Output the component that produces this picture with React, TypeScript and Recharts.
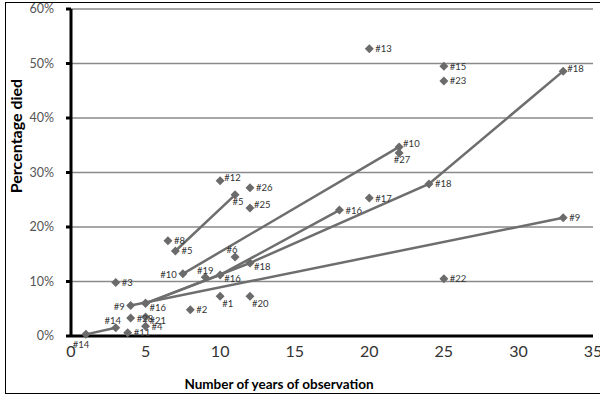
import React from 'react';
import { ScatterChart, Scatter, XAxis, YAxis, CartesianGrid } from 'recharts';

// ---- axis ticks ----
const xTicks = [0, 5, 10, 15, 20, 25, 30, 35];
const yTicks = [0, 10, 20, 30, 40, 50, 60];

// ---- connected studies (years, % died) ----
const s14Labels = ['#14', '#14'];
const s14X = [1, 3];
const s14Y = [0.3, 1.5];

const s9Labels = ['#9', '#9'];
const s9X = [4, 33];
const s9Y = [5.6, 21.7];

const s16Labels = ['#16', '#16', '#16'];
const s16X = [5, 10, 18];
const s16Y = [6, 11.2, 23.1];

const s18Labels = ['', '#18', '#18', '#18'];
const s18X = [5, 12, 24, 33];
const s18Y = [6, 13.4, 27.9, 48.6];

const s10Labels = ['#10', '#10'];
const s10X = [7.5, 22];
const s10Y = [11.4, 34.7];

const s5Labels = ['#5', '#5'];
const s5X = [7, 11];
const s5Y = [15.6, 25.9];

// ---- single-observation studies ----
const ptLabels = ['#11', '#4', '#21', '#28', '#3', '#2', '#1', '#19', '#6', '#8', '#12', '#26', '#25', '#20', '#17', '#22', '#15', '#23', '#13', '#27'];
const ptX = [3.8, 5, 5, 4, 3, 8, 10, 9, 11, 6.5, 10, 12, 12, 12, 20, 25, 25, 25, 20, 22];
const ptY = [0.6, 1.8, 3.5, 3.3, 9.8, 4.8, 7.3, 10.8, 14.5, 17.5, 28.5, 27.2, 23.5, 7.3, 25.3, 10.5, 49.5, 46.8, 52.7, 33.6];

// ---- label placement (style, kept separate from data) ----
const s14Place = ['bl', 'tl'];
const s9Place = ['l', 'r'];
const s16Place = ['rb', 'rb', 'r'];
const s18Place = ['', 'rb', 'r', 'rt'];
const s10Place = ['l', 'rt'];
const s5Place = ['r', 'b'];
const ptPlace = ['r', 'r', 'rb', 'r', 'r', 'r', 'rb2', 't', 'tl', 'r', 'rt', 'r', 'rt', 'rb2', 'r', 'r', 'r', 'r', 'r', 'b'];

const OFFSETS: Record<string, [number, number, 'start' | 'middle' | 'end']> = {
  r: [6, 0, 'start'],
  rt: [4, -3, 'start'],
  rb: [4, 4, 'start'],
  rb2: [2, 7, 'start'],
  b: [3, 7, 'middle'],
  bl: [-5, 10, 'middle'],
  t: [0, -7, 'middle'],
  tl: [-3, -7, 'middle'],
  l: [-6, 1, 'end'],
};

const build = (labels: string[], xs: number[], ys: number[], place: string[]) =>
  xs.map((x, i) => ({ x, y: ys[i], label: labels[i], place: place[i] }));

const FONT = 'Lato, "Open Sans", sans-serif';
const MARK = '#6b6b6b';
const LINE = '#6e6e6e';

const Point = (props: any) => {
  const { cx, cy, payload } = props;
  if (cx == null || cy == null) return null;
  const r = 4.5;
  const off = OFFSETS[payload.place];
  return (
    <g>
      <path d={`M${cx},${cy - r}L${cx + r},${cy}L${cx},${cy + r}L${cx - r},${cy}Z`} fill={MARK} />
      {payload.label && off ? (
        <text
          x={cx + off[0]}
          y={cy + off[1]}
          textAnchor={off[2]}
          dominantBaseline="central"
          fontSize={9.5}
          fontFamily={FONT}
          fill="#333"
        >
          {payload.label}
        </text>
      ) : null}
    </g>
  );
};

const YTitle = () => (
  <text
    x={15}
    y={136}
    transform="rotate(-90 15 136)"
    textAnchor="middle"
    dominantBaseline="central"
    fontSize={16}
    fontWeight="bold"
    fontFamily={FONT}
    fill="#000"
  >
    Percentage died
  </text>
);

const XTitle = () => (
  <text
    x={279}
    y={384}
    textAnchor="middle"
    dominantBaseline="central"
    fontSize={13.5}
    fontWeight="bold"
    fontFamily={FONT}
    fill="#000"
  >
    Number of years of observation
  </text>
);

const lineStyle = { stroke: LINE, strokeWidth: 2.5 };

export default function App() {
  const series = [
    build(s14Labels, s14X, s14Y, s14Place),
    build(s9Labels, s9X, s9Y, s9Place),
    build(s16Labels, s16X, s16Y, s16Place),
    build(s18Labels, s18X, s18Y, s18Place),
    build(s10Labels, s10X, s10Y, s10Place),
    build(s5Labels, s5X, s5Y, s5Place),
  ];
  const singles = build(ptLabels, ptX, ptY, ptPlace);
  return (
    <div style={{ position: 'absolute', left: 0, top: 0, width: 600, height: 400, background: '#fff', overflow: 'hidden' }}>
      <div
        style={{
          position: 'absolute',
          left: 5,
          top: 2,
          width: 600,
          height: 392,
          border: '1px solid #000',
          boxSizing: 'border-box',
        }}
      />
      <div style={{ position: 'absolute', left: 0, top: 0 }}>
        <ScatterChart width={600} height={400} margin={{ top: 9, right: 7, bottom: 34, left: 0 }}>
          <CartesianGrid vertical={false} stroke="#8a8a8a" strokeWidth={1.3} />
          <XAxis
            type="number"
            dataKey="x"
            domain={[0, 35]}
            ticks={xTicks}
            interval={0}
            allowDataOverflow
            height={30}
            tickLine={false}
            tickSize={0}
            tickMargin={10}
            axisLine={{ stroke: '#000', strokeWidth: 3 }}
            tick={{ fontSize: 16, fill: '#333', fontFamily: FONT }}
            label={<XTitle />}
          />
          <YAxis
            type="number"
            dataKey="y"
            domain={[0, 60]}
            ticks={yTicks}
            interval={0}
            width={71}
            tickSize={5}
            tickMargin={12}
            tickLine={{ stroke: '#000', strokeWidth: 3 }}
            axisLine={{ stroke: '#000', strokeWidth: 3 }}
            tickFormatter={(v: number) => `${v}%`}
            tick={{ fontSize: 12.5, fill: '#555', fontFamily: FONT }}
            label={<YTitle />}
          />
          {series.map((d, i) => (
            <Scatter
              key={i}
              data={d}
              line={lineStyle}
              lineType="joint"
              shape={Point}
              isAnimationActive={false}
            />
          ))}
          <Scatter data={singles} shape={Point} isAnimationActive={false} />
        </ScatterChart>
      </div>
    </div>
  );
}
